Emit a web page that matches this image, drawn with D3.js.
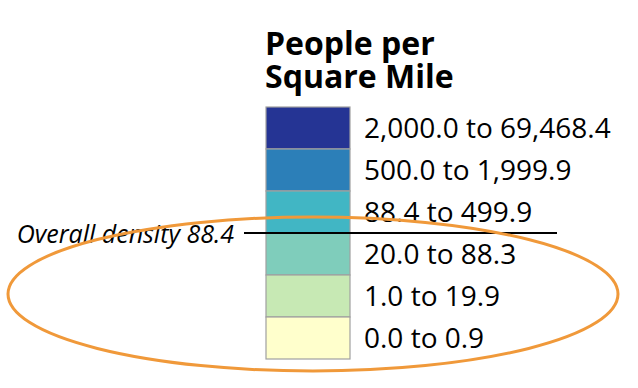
<!DOCTYPE html>
<html>
<head>
<meta charset="utf-8">
<style>
  body { margin: 0; background: #fff; }
  text { font-family: "Open Sans", sans-serif; fill: #000; }
</style>
</head>
<body>
<svg width="638" height="388"></svg>
<script src="https://d3js.org/d3.v7.min.js"></script>
<script>
  // legend classes, top (densest) to bottom
  var classLabels = ["2,000.0 to 69,468.4", "500.0 to 1,999.9", "88.4 to 499.9", "20.0 to 88.3", "1.0 to 19.9", "0.0 to 0.9"];
  var classLower = [2000, 500, 88.4, 20, 1, 0];
  var classColors = ["#253494", "#2c7fb8", "#41b6c4", "#7fcdbb", "#c7e9b4", "#ffffcc"];
  var titleLines = ["People per", "Square Mile"];
  var overallDensity = 88.4;
  var overallLabel = "Overall density 88.4";

  var svg = d3.select("svg");

  var y = d3.scaleBand()
    .domain(d3.range(classLabels.length))
    .range([107, 359])
    .padding(0);

  var boxX = 266, boxW = 84;

  // title as one text block, two lines
  svg.append("text")
    .attr("x", 265)
    .attr("y", 55)
    .attr("font-size", "32px")
    .attr("font-weight", "bold")
    .selectAll("tspan")
    .data(titleLines)
    .enter()
    .append("tspan")
    .attr("x", 265)
    .attr("dy", function(d, i) { return i ? 33 : 0; })
    .text(function(d) { return d; });

  var rows = svg.append("g")
    .selectAll(".row")
    .data(classLabels)
    .enter()
    .append("g")
    .attr("class", "row");

  rows.append("rect")
    .attr("x", boxX)
    .attr("y", function(d, i) { return y(i); })
    .attr("width", boxW)
    .attr("height", y.bandwidth())
    .attr("fill", function(d, i) { return classColors[i]; })
    .attr("stroke", "#a0a0a0")
    .attr("stroke-width", 1.2);

  rows.append("text")
    .attr("x", 364)
    .attr("y", function(d, i) { return y(i) + y.bandwidth() / 2 + 10; })
    .attr("font-size", "28px")
    .text(function(d) { return d; });

  // overall density sits at the bottom of the class whose lower bound it equals
  var idx = classLower.findIndex(function(v) { return v <= overallDensity; });
  var lineY = y(idx) + y.bandwidth();

  svg.append("line")
    .attr("x1", 244)
    .attr("x2", 557)
    .attr("y1", lineY)
    .attr("y2", lineY)
    .attr("stroke", "#000")
    .attr("stroke-width", 2);

  svg.append("text")
    .attr("x", 234)
    .attr("y", lineY + 10)
    .attr("text-anchor", "end")
    .attr("font-size", "25px")
    .attr("font-style", "italic")
    .text(overallLabel);

  svg.append("ellipse")
    .attr("cx", 313)
    .attr("cy", 294)
    .attr("rx", 305)
    .attr("ry", 77)
    .attr("fill", "none")
    .attr("stroke", "#f0993a")
    .attr("stroke-width", 3);
</script>
</body>
</html>
